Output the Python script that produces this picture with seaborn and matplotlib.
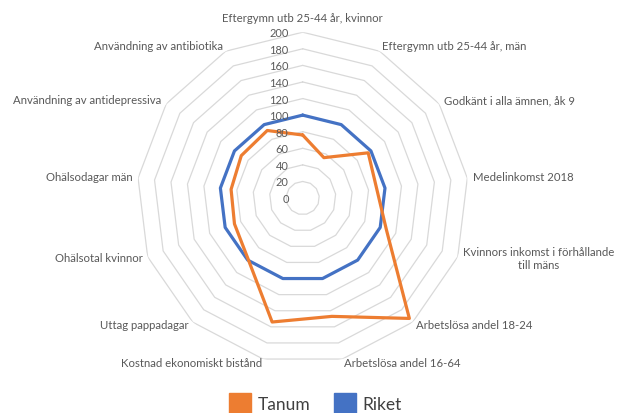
import numpy as np
import pandas as pd
import seaborn as sns
import matplotlib
matplotlib.use("Agg")
import matplotlib.pyplot as plt
from matplotlib.lines import Line2D

categories = [
    "Eftergymn utb 25-44 år, kvinnor",
    "Eftergymn utb 25-44 år, män",
    "Godkänt i alla ämnen, åk 9",
    "Medelinkomst 2018",
    "Kvinnors inkomst i förhållande\ntill mäns",
    "Arbetslösa andel 18-24",
    "Arbetslösa andel 16-64",
    "Kostnad ekonomiskt bistånd",
    "Uttag pappadagar",
    "Ohälsotal kvinnor",
    "Ohälsodagar män",
    "Användning av antidepressiva",
    "Användning av antibiotika",
]
tanum = [76, 55, 96, 90, 108, 194, 147, 154, 99, 88, 87, 90, 92]
riket = [100] * 13
series_names = ["Tanum", "Riket"]
ring_levels = [0, 20, 40, 60, 80, 100, 120, 140, 160, 180, 200]

colors = {"Tanum": "#ED7D31", "Riket": "#4472C4"}
grid_color = "#D9D9D9"
text_color = "#595959"

sns.set_theme(style="white")
plt.rcParams["font.family"] = ["Lato", "DejaVu Sans"]

n = len(categories)
theta = np.linspace(0, 2 * np.pi, n, endpoint=False)
theta_closed = np.append(theta, theta[0])

rows = []
for name, vals in zip(series_names, [tanum, riket]):
    closed = list(vals) + [vals[0]]
    for i, (t, v) in enumerate(zip(theta_closed, closed)):
        rows.append({"series": name, "theta": t, "value": v, "order": i})
df = pd.DataFrame(rows)

fig = plt.figure(figsize=(6.19, 4.13), dpi=100)
ax = fig.add_axes([0.221, 0.119, 0.536, 0.803], projection="polar")
ax.set_theta_zero_location("N")
ax.set_theta_direction(-1)
ax.set_ylim(0, ring_levels[-1])
ax.grid(False)
ax.spines["polar"].set_visible(False)
ax.set_xticks([])
ax.set_yticks([])
ax.set_facecolor("white")

# polygonal gridlines
for lvl in ring_levels[1:]:
    ax.plot(theta_closed, [lvl] * (n + 1), color=grid_color, lw=0.9, zorder=1)

# radial value labels along the top axis
for lvl in ring_levels:
    ax.annotate(str(lvl), xy=(0, lvl), xytext=(-14, -1.5), textcoords="offset pixels",
                ha="right", va="center", fontsize=7.9, color=text_color, zorder=5)

# series lines
sns.lineplot(data=df, x="theta", y="value", hue="series", units="series",
             estimator=None, sort=False, palette=colors,
             hue_order=["Riket", "Tanum"], linewidth=2.3, legend=False, ax=ax, zorder=3)
ax.set_xlabel("")
ax.set_ylabel("")

# category labels around the outer ring
for t, lab in zip(theta, categories):
    s, c = np.sin(t), np.cos(t)
    if abs(s) < 0.01:
        ax.annotate(lab, xy=(t, ring_levels[-1]), xytext=(0, 8), textcoords="offset pixels",
                    ha="center", va="bottom", fontsize=8.2, color=text_color)
    else:
        ha = "left" if s > 0 else "right"
        ax.annotate(lab, xy=(t, ring_levels[-1]), xytext=(5.5 * s, 5 * c),
                    textcoords="offset pixels", ha=ha, va="center",
                    multialignment="center", fontsize=8.2, color=text_color)

handles = [Line2D([], [], ls="none", marker="s", markersize=16,
                  markerfacecolor=colors[nm], markeredgecolor=colors[nm]) for nm in series_names]
fig.legend(handles, series_names, loc="center", bbox_to_anchor=(0.51, 0.019), ncol=2,
           frameon=False, fontsize=12.5, handletextpad=0.4, columnspacing=1.4,
           handlelength=1.2, labelcolor="#404040")

fig.savefig("out.png", dpi=100, facecolor="white")
